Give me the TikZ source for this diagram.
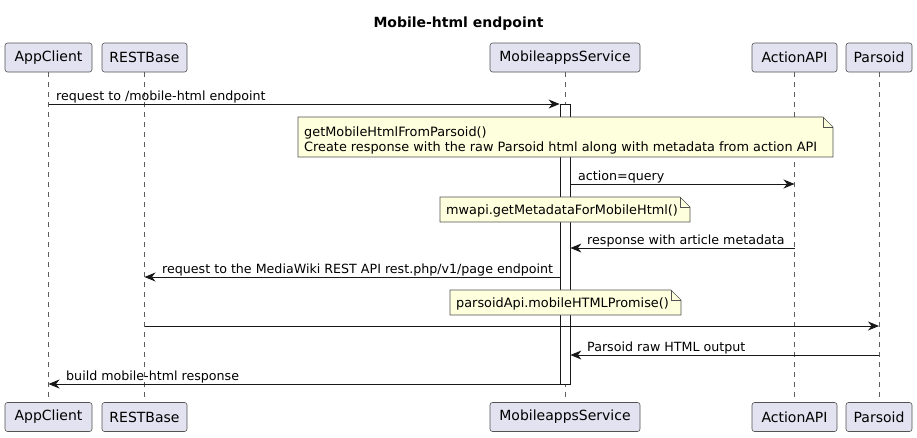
\documentclass[tikz,border=0pt]{standalone}
\usepackage{fontspec}
\setmainfont{DejaVu Sans}
\usetikzlibrary{arrows.meta}
\definecolor{partfill}{HTML}{E2E2F0}
\definecolor{umlline}{HTML}{181818}
\definecolor{notefill}{HTML}{FEFFDD}
\begin{document}
\begin{tikzpicture}[x=1pt,y=-1pt,
  part/.style={draw=umlline!75, fill=partfill, line width=0.6pt, rounded corners=2.5pt,
    minimum height=29pt, inner sep=0pt, font=\fontsize{14}{16}\selectfont},
  lifeline/.style={draw=umlline!70, line width=0.5pt, dash pattern=on 5pt off 5pt},
  actbox/.style={draw=umlline, fill=white, line width=0.8pt, minimum width=10pt, inner sep=0pt},
  msg/.style={draw=umlline, line width=0.9pt, -{Stealth[length=11pt,width=9pt,inset=3.5pt]}},
  lbl/.style={font=\fontsize{12.65}{15}\selectfont, inner sep=0pt, anchor=base west},
  notefillst/.style={fill=notefill, draw=umlline!75, line width=0.6pt},
  notefold/.style={draw=umlline!75, line width=0.6pt},
  notetext/.style={font=\fontsize{12.85}{15}\selectfont, inner sep=0pt, anchor=base west}]
\useasboundingbox (0,0) rectangle (917,437);
% title
\node[font=\bfseries\fontsize{14}{16}\selectfont, inner sep=0pt, anchor=base] (title) at (458.5,27) {Mobile-html endpoint};
% participants top
\node[part, minimum width=87pt] (ac) at (48.5,57.5) {AppClient};
\node[part, minimum width=85pt] (rb) at (144.5,57.5) {RESTBase};
\node[part, minimum width=150pt] (ms) at (565,57.5) {MobileappsService};
\node[part, minimum width=85pt] (aa) at (794.5,57.5) {ActionAPI};
\node[part, minimum width=66pt] (ps) at (879,57.5) {Parsoid};
% participants bottom
\node[part, minimum width=87pt] (acb) at (48.5,417) {AppClient};
\node[part, minimum width=85pt] (rbb) at (144.5,417) {RESTBase};
\node[part, minimum width=150pt] (msb) at (565,417) {MobileappsService};
\node[part, minimum width=85pt] (aab) at (794.5,417) {ActionAPI};
\node[part, minimum width=66pt] (psb) at (879,417) {Parsoid};
% lifelines
\draw[lifeline] (ac.south) -- (acb.north);
\draw[lifeline] (rb.south) -- (rbb.north);
\draw[lifeline] (ms.south) -- (msb.north);
\draw[lifeline] (aa.south) -- (aab.north);
\draw[lifeline] (ps.south) -- (psb.north);
% activation
\node[actbox, minimum height=280pt] (act) at (565,244) {};
% message rows
\coordinate (r1) at (0,104);
\coordinate (r2) at (0,184);
\coordinate (r3) at (0,248);
\coordinate (r4) at (0,277);
\coordinate (r5) at (0,326);
\coordinate (r6) at (0,355);
\coordinate (r7) at (0,384);
% messages
\draw[msg] (ac |- r1) -- (act.west |- r1);
\node[lbl] (l1) at (56,100) {request to /mobile-html endpoint};
\draw[msg] (act.east |- r2) -- (aa |- r2);
\node[lbl] (l2) at (578,180) {action=query};
\draw[msg] (aa |- r3) -- (act.east |- r3);
\node[lbl] (l3) at (587,244) {response with article metadata};
\draw[msg] (act.west |- r4) -- (rb |- r4);
\node[lbl] (l4) at (162,273) {request to the MediaWiki REST API rest.php/v1/page endpoint};
\draw[msg] (rb |- r5) -- (ps |- r5);
\draw[msg] (ps |- r6) -- (act.east |- r6);
\node[lbl] (l6) at (587,351) {Parsoid raw HTML output};
\draw[msg] (act.west |- r7) -- (ac |- r7);
\node[lbl] (l7) at (66,380) {build mobile-html response};
% note 1
\path[notefillst] (298,117) -- (823,117) -- (833,127) -- (833,157) -- (298,157) -- cycle;
\draw[notefold] (823,117) -- (823,127) -- (833,127);
\node[notetext] (n1a) at (304,136.5) {getMobileHtmlFromParsoid()};
\node[notetext] (n1b) at (304,151.5) {Create response with the raw Parsoid html along with metadata from action API};
% note 2
\path[notefillst] (440,197) -- (680,197) -- (690,207) -- (690,222) -- (440,222) -- cycle;
\draw[notefold] (680,197) -- (680,207) -- (690,207);
\node[notetext] (n2) at (446,214.5) {mwapi.getMetadataForMobileHtml()};
% note 3
\path[notefillst] (450,290) -- (671,290) -- (681,300) -- (681,315) -- (450,315) -- cycle;
\draw[notefold] (671,290) -- (671,300) -- (681,300);
\node[notetext] (n3) at (456,307.5) {parsoidApi.mobileHTMLPromise()};
\end{tikzpicture}
\end{document}
